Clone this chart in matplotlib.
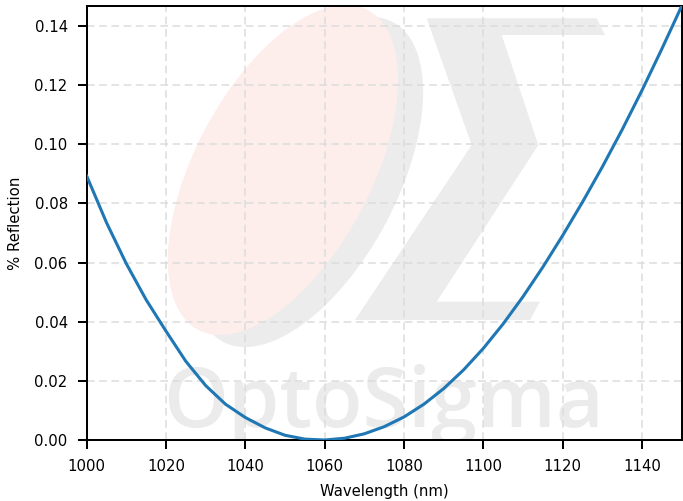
import matplotlib
matplotlib.use("Agg")
import matplotlib.pyplot as plt
from matplotlib.patches import Ellipse, Polygon

# wavelength (nm) and reflection (%)
wavelength = [1000, 1005, 1010, 1015, 1020, 1025, 1030, 1035, 1040, 1045,
              1050, 1055, 1060, 1065, 1070, 1075, 1080, 1085, 1090, 1095,
              1100, 1105, 1110, 1115, 1120, 1125, 1130, 1135, 1140, 1145, 1150]
reflection = [0.0893, 0.0735, 0.0596, 0.0474, 0.0368, 0.0266, 0.0184, 0.0121,
              0.0076, 0.0041, 0.0016, 0.0003, 0.0000, 0.0006, 0.0021, 0.0045,
              0.0078, 0.0121, 0.0174, 0.0237, 0.0310, 0.0393, 0.0485, 0.0585,
              0.0692, 0.0805, 0.0924, 0.1050, 0.1183, 0.1323, 0.1468]

W, H, DPI = 683, 501, 100
FS = 10.7
fig = plt.figure(figsize=(W / DPI, H / DPI), dpi=DPI)
ax = fig.add_axes([86.7 / W, 61 / H, 595 / W, 434 / H])


def px(x, y):
    # reference pixel (from top-left) -> figure inches
    return (x / DPI, (H - y) / DPI)


tr = fig.dpi_scale_trans

# watermark logo, drawn under the grid
shadow = Ellipse(px(308, 182), 2 * 181 / DPI, 2 * 88 / DPI, angle=62,
                 facecolor="#ececec", edgecolor="none", transform=tr, zorder=0.1)
disc = Ellipse(px(283, 170), 2 * 181 / DPI, 2 * 88 / DPI, angle=62,
               facecolor="#fdeeec", edgecolor="none", transform=tr, zorder=0.2)
sigma_pts = [(426.7, 18.3), (596.7, 18.3), (605, 35), (501.7, 35), (538.3, 145),
             (436.7, 301.7), (540, 301.7), (530, 320), (355, 320), (471.7, 145)]
sigma = Polygon([px(x, y) for x, y in sigma_pts], closed=True,
                facecolor="#ececec", edgecolor="none", transform=tr, zorder=0.1)
for p in (shadow, sigma, disc):
    ax.add_patch(p)
ax.text(163 / DPI, (H - 427) / DPI, "OptoSigma", transform=tr, family="Open Sans",
        fontweight="semibold", fontsize=59.5, color="#ebebeb", ha="left",
        va="baseline", zorder=0.3, clip_on=True)

ax.plot(wavelength, reflection, color="#1f77b4", lw=2.2, zorder=3)

ax.set_xlim(1000, 1150)
ax.set_ylim(0, max(reflection))
ax.set_xticks(range(1000, 1141, 20))
ax.set_yticks([0.00, 0.02, 0.04, 0.06, 0.08, 0.10, 0.12, 0.14])
ax.set_yticklabels([f"{v:.2f}" for v in ax.get_yticks()])
ax.set_axisbelow(True)
ax.grid(True, color="#dcdcdc", linestyle=(0, (5, 3)), lw=1.1)
for s in ax.spines.values():
    s.set_linewidth(1.45)
ax.tick_params(length=6.5, width=1.45, pad=7.2, labelsize=FS)
ax.set_xlabel("Wavelength (nm)", fontsize=FS, labelpad=7.5)
ax.set_ylabel("% Reflection", fontsize=FS, labelpad=8)

fig.savefig("out.png", dpi=DPI)
